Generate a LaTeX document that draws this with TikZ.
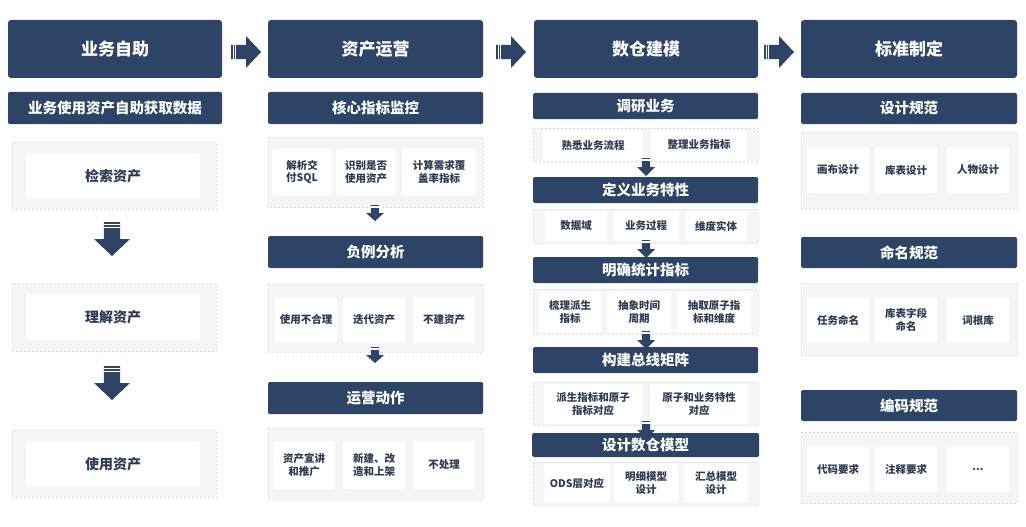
\documentclass[tikz,border=0pt]{standalone}
\usepackage{fontspec}
\setmainfont{Noto Sans CJK SC}
\begin{document}
\definecolor{navy}{HTML}{2E4466}
\definecolor{pfill}{HTML}{F4F5F7}
\definecolor{pline}{HTML}{DCDFE4}
\definecolor{ttxt}{HTML}{2E3B52}
\tikzset{
 hdr/.style={fill=navy,rounded corners=3pt,text=white,font=\bfseries\fontsize{17}{19}\selectfont,inner sep=0pt},
 bar/.style={fill=navy,rounded corners=1.5pt,text=white,font=\bfseries\fontsize{14.5}{16}\selectfont,inner sep=0pt},
 panel/.style={fill=pfill,draw=pline,dash pattern=on 2pt off 2pt,line width=0.6pt},
 box/.style={fill=white,rounded corners=2pt,text=ttxt,font=\bfseries\fontsize{10.5}{12.5}\selectfont,align=center,inner sep=0pt},
 bigbox/.style={box,font=\bfseries\fontsize{14}{16}\selectfont},
 darrow/.pic={\fill[navy] (-0.45,0)--(0.45,0)--(0.45,0.5)--(1,0.5)--(0,1)--(-1,0.5)--(-0.45,0.5)--cycle;
   \draw[white,line width=0.6pt] (-0.5,0.07)--(0.5,0.07) (-0.5,0.15)--(0.5,0.15);},
 rarrow/.pic={\fill[navy] (0,-0.45)--(0,0.45)--(0.5,0.45)--(0.5,1)--(1,0)--(0.5,-1)--(0.5,-0.45)--cycle;
   \draw[white,line width=0.6pt] (0.07,-0.5)--(0.07,0.5) (0.15,-0.5)--(0.15,0.5);}
}
\begin{tikzpicture}[x=1pt,y=-1pt]
\useasboundingbox[fill=white] (0,0) rectangle (1026,527);
% headers
\node[hdr,minimum width=214,minimum height=58] (h1) at (115,49) {业务自助};
\node[hdr,minimum width=215,minimum height=58] (h2) at (375.5,49) {资产运营};
\node[hdr,minimum width=224,minimum height=58] (h3) at (646,49) {数仓建模};
\node[hdr,minimum width=216,minimum height=58] (h4) at (909,49) {标准制定};
\pic[xscale=30,yscale=16] at (231,52) {rarrow};
\pic[xscale=30,yscale=16] at (496,52) {rarrow};
\pic[xscale=30,yscale=16] at (764,52) {rarrow};
% column 1
\node[bar,minimum width=214,minimum height=32] (b11) at (115,108) {业务使用资产自助获取数据};
\foreach \y/\t/\n in {176/检索资产/a, 317/理解资产/b, 464/使用资产/c}{
 \draw[panel] (12,\y-34) rectangle (216,\y+34);
 \node[bigbox,minimum width=174,minimum height=46] (c1\n) at (113,\y) {\t};
}
\pic[xscale=18,yscale=34] at (112,222) {darrow};
\pic[xscale=18,yscale=34] at (112,366) {darrow};
% column 2
\node[bar,minimum width=215,minimum height=32] (b21) at (375.5,108) {核心指标监控};
\node[bar,minimum width=215,minimum height=32] (b22) at (375.5,252) {负例分析};
\node[bar,minimum width=215,minimum height=32] (b23) at (375.5,398) {运营动作};
\draw[panel] (268,137) rectangle (483,207);
\node[box,minimum width=60,minimum height=46] (c2a) at (302,172) {解析交\\付SQL};
\node[box,minimum width=60,minimum height=46] (c2b) at (366,172) {识别是否\\使用资产};
\node[box,minimum width=74,minimum height=46] (c2c) at (439,172) {计算需求覆\\盖率指标};
\draw[panel] (268,284) rectangle (483,352);
\node[box,minimum width=62,minimum height=46] (c2d) at (306,320) {使用不合理};
\node[box,minimum width=62,minimum height=46] (c2e) at (374,320) {迭代资产};
\node[box,minimum width=62,minimum height=46] (c2f) at (444,320) {不建资产};
\draw[panel] (268,428) rectangle (483,500);
\node[box,minimum width=62,minimum height=48] (c2g) at (304,465) {资产宣讲\\和推广};
\node[box,minimum width=62,minimum height=48] (c2h) at (374,465) {新建、改\\造和上架};
\node[box,minimum width=62,minimum height=48] (c2i) at (444,465) {不处理};
\pic[xscale=9,yscale=16] at (375,205) {darrow};
\pic[xscale=9,yscale=16] at (375,347) {darrow};
% column 3
\node[bar,minimum width=225,minimum height=26] (b31) at (645.5,106) {调研业务};
\node[bar,minimum width=225,minimum height=26] (b32) at (645.5,190) {定义业务特性};
\node[bar,minimum width=225,minimum height=26] (b33) at (645.5,270) {明确统计指标};
\node[bar,minimum width=225,minimum height=26] (b34) at (645.5,360) {构建总线矩阵};
\node[bar,minimum width=227,minimum height=24] (b35) at (645.5,445) {设计数仓模型};
\draw[panel] (533,128) rectangle (758,162);
\node[box,minimum width=100,minimum height=30] (c3a) at (593,145) {熟悉业务流程};
\node[box,minimum width=96,minimum height=30] (c3b) at (699,145) {整理业务指标};
\draw[panel] (533,209) rectangle (758,243);
\node[box,minimum width=62,minimum height=30] (c3c) at (576,226) {数据域};
\node[box,minimum width=66,minimum height=30] (c3d) at (646,226) {业务过程};
\node[box,minimum width=62,minimum height=30] (c3e) at (716,226) {维度实体};
\draw[panel] (533,289) rectangle (758,334);
\node[box,minimum width=62,minimum height=40] (c3f) at (570,312) {梳理派生\\指标};
\node[box,minimum width=64,minimum height=40] (c3g) at (639,312) {抽象时间\\周期};
\node[box,minimum width=74,minimum height=40] (c3h) at (714,312) {抽取原子指\\标和维度};
\draw[panel] (533,382) rectangle (758,425);
\node[box,minimum width=98,minimum height=40] (c3i) at (593,404) {派生指标和原子\\指标对应};
\node[box,minimum width=98,minimum height=40] (c3j) at (699,404) {原子和业务特性\\对应};
\draw[panel] (533,462) rectangle (758,505);
\node[box,minimum width=66,minimum height=40] (c3k) at (577,483) {ODS层对应};
\node[box,minimum width=64,minimum height=40] (c3l) at (646,483) {明细模型\\设计};
\node[box,minimum width=64,minimum height=40] (c3m) at (716,483) {汇总模型\\设计};
\foreach \y in {158,240,331,421}{\pic[xscale=9,yscale=18] at (646,\y) {darrow};}
% column 4
\node[bar,minimum width=216,minimum height=31] (b41) at (909,108.5) {设计规范};
\node[bar,minimum width=216,minimum height=31] (b42) at (909,252.5) {命名规范};
\node[bar,minimum width=216,minimum height=31] (b43) at (909,405.5) {编码规范};
\draw[panel] (801,132) rectangle (1017,208);
\node[box,minimum width=62,minimum height=46] (c4a) at (838,170) {画布设计};
\node[box,minimum width=62,minimum height=46] (c4b) at (906,170) {库表设计};
\node[box,minimum width=62,minimum height=46] (c4c) at (978,170) {人物设计};
\draw[panel] (801,283) rectangle (1017,355);
\node[box,minimum width=62,minimum height=46] (c4d) at (838,320) {任务命名};
\node[box,minimum width=62,minimum height=46] (c4e) at (906,320) {库表字段\\命名};
\node[box,minimum width=62,minimum height=46] (c4f) at (978,320) {词根库};
\draw[panel] (801,432) rectangle (1017,503);
\node[box,minimum width=62,minimum height=46] (c4g) at (838,469) {代码要求};
\node[box,minimum width=62,minimum height=46] (c4h) at (906,469) {注释要求};
\node[box,minimum width=62,minimum height=46] (c4i) at (978,469) {...};
\end{tikzpicture}
\end{document}
